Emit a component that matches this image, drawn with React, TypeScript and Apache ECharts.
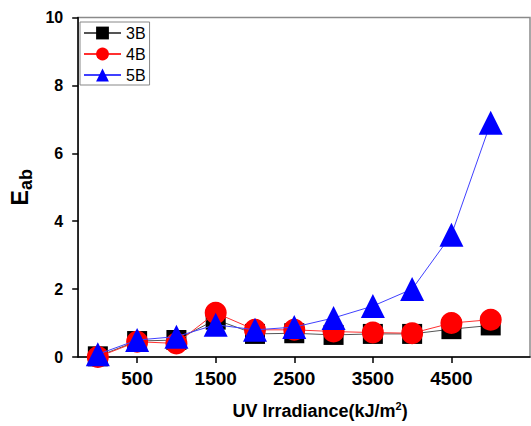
import React, { useEffect, useRef } from "react";
import * as echarts from "echarts";

const irradiance = [0, 500, 1000, 1500, 2000, 2500, 3000, 3500, 4000, 4500, 5000];
const s3B = [0.02, 0.47, 0.5, 1.1, 0.68, 0.7, 0.65, 0.68, 0.68, 0.82, 0.93];
const s4B = [0.0, 0.45, 0.4, 1.3, 0.8, 0.8, 0.75, 0.72, 0.7, 1.0, 1.1];
const s5B = [0.08, 0.5, 0.6, 0.95, 0.8, 0.88, 1.15, 1.5, 2.0, 3.6, 6.9];
const xTickValues = [500, 1500, 2500, 3500, 4500];
const seriesNames = ["3B", "4B", "5B"];

const FONT = "'Liberation Sans', Arial, sans-serif";

export default function App() {
  const ref = useRef<HTMLDivElement>(null);
  useEffect(() => {
    if (!ref.current) return;
    const chart = echarts.init(ref.current, null, { renderer: "svg" });
    const mk = (arr: number[]) => irradiance.map((x, i) => [x, arr[i]]);
    chart.setOption({
      animation: false,
      backgroundColor: "#fff",
      grid: {
        left: 72,
        top: 17.5,
        right: 1,
        bottom: 69,
        show: true,
        borderColor: "#8a8a8a",
        borderWidth: 1.5,
      },
      legend: {
        left: 80,
        top: 22,
        orient: "vertical",
        itemWidth: 37,
        itemHeight: 16,
        itemGap: 5,
        padding: [3, 4, 2, 3],
        borderColor: "#888",
        borderWidth: 1,
        backgroundColor: "#fff",
        textStyle: { fontFamily: FONT, fontSize: 16, color: "#000" },
        data: seriesNames,
      },
      xAxis: {
        type: "value",
        min: -250,
        max: 5500,
        name: "{t|UV Irradiance(kJ/m}{sup|2}{t|)}",
        nameLocation: "middle",
        nameGap: 43,
        nameTextStyle: {
          padding: [0, 0, 0, 32],
          rich: {
            t: { fontFamily: FONT, fontSize: 18, fontWeight: "bold", color: "#000", lineHeight: 22 },
            sup: { fontFamily: FONT, fontSize: 11, fontWeight: "bold", color: "#000", verticalAlign: "top", lineHeight: 22 },
          },
        },
        splitLine: { show: false },
        axisLine: { onZero: false, lineStyle: { color: "#000", width: 1.5 } },
        axisTick: { show: true, inside: false, length: 6, lineStyle: { color: "#000", width: 1.5 }, customValues: xTickValues },
        axisLabel: {
          customValues: xTickValues,
          formatter: (v: number) => String(v),
          margin: 12,
          fontFamily: FONT,
          fontSize: 19,
          fontWeight: "bold",
          color: "#000",
        },
      },
      yAxis: {
        type: "value",
        min: 0,
        max: 10,
        interval: 2,
        name: "{e|E}{sub|ab}",
        nameLocation: "middle",
        nameRotate: 90,
        nameGap: 31,
        nameTextStyle: {
          rich: {
            e: { fontFamily: FONT, fontSize: 23, fontWeight: "bold", color: "#000", lineHeight: 30 },
            sub: { fontFamily: FONT, fontSize: 18, fontWeight: "bold", color: "#000", verticalAlign: "bottom", lineHeight: 30 },
          },
        },
        splitLine: { show: false },
        axisLine: { show: true, onZero: false, lineStyle: { color: "#000", width: 1.5 } },
        axisTick: { show: true, inside: false, length: 6, lineStyle: { color: "#000", width: 1.5 } },
        axisLabel: {
          margin: 15,
          fontFamily: FONT,
          fontSize: 16,
          fontWeight: "bold",
          color: "#000",
        },
      },
      series: [
        {
          name: "3B",
          type: "line",
          data: mk(s3B),
          symbol: "rect",
          symbolSize: 20,
          itemStyle: { color: "#000" },
          lineStyle: { color: "#555", width: 1 },
          z: 2,
        },
        {
          name: "4B",
          type: "line",
          data: mk(s4B),
          symbol: "circle",
          symbolSize: 22,
          itemStyle: { color: "#ff0000" },
          lineStyle: { color: "#ff3030", width: 1 },
          z: 3,
        },
        {
          name: "5B",
          type: "line",
          data: mk(s5B),
          symbol: "triangle",
          symbolSize: 24,
          itemStyle: { color: "#0000ff" },
          lineStyle: { color: "#4040ff", width: 1 },
          z: 4,
        },
      ],
    });
    return () => chart.dispose();
  }, []);
  return <div ref={ref} style={{ width: 531, height: 426, position: "absolute", left: 0, top: 0 }} />;
}
